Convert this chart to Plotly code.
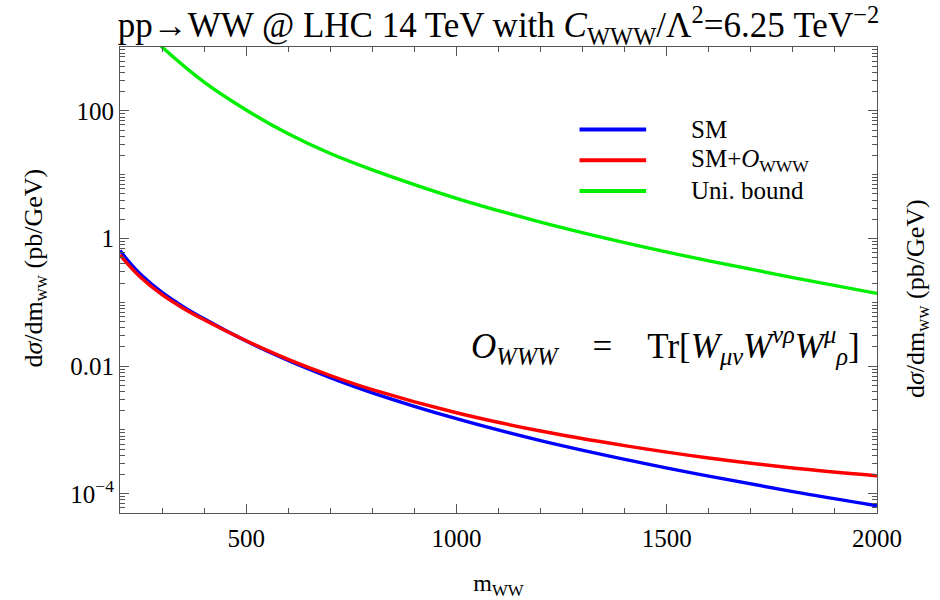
import plotly.graph_objects as go
import numpy as np

# ---- data ----
m_sm = [200, 225, 250, 300, 350, 400, 500, 600, 700, 800, 1000, 1200, 1400, 1600, 1800, 2000]
sm = [0.646, 0.403, 0.270, 0.1426, 0.0857, 0.0552, 0.0247, 0.01225, 6.61e-3, 3.82e-3,
      1.50e-3, 6.82e-4, 3.47e-4, 1.89e-4, 1.08e-4, 6.5e-5]
sm_www = [0.553, 0.355, 0.242, 0.1315, 0.0809, 0.0533, 0.0250, 0.01276, 7.13e-3, 4.29e-3,
          1.86e-3, 9.64e-4, 5.69e-4, 3.64e-4, 2.54e-4, 1.92e-4]

m_uni = [290, 300, 400, 500, 600, 700, 800, 1000, 1200, 1400, 1600, 1800, 2000]
uni = [1161, 1000, 281.8, 103.3, 43.65, 21.4, 11.89, 4.26, 1.81, 0.863, 0.446, 0.244, 0.138]

x_ticks = [500, 1000, 1500, 2000]
x_ticktext = ["500", "1000", "1500", "2000"]
y_ticks = [1e-4, 1e-2, 1, 100]
y_ticktext = ["10<sup>\u22124</sup>", "0.01", "1", "100"]

series_names = ["SM", "SM+<i>O</i><sub>WWW</sub>", "Uni. bound"]
series_colors = ["#0000ff", "#ff0000", "#00ee00"]

SERIF = "Liberation Serif"
FRAME = "#555555"

fig = go.Figure()
for xs, ys, nm, col in [(m_sm, sm, series_names[0], series_colors[0]),
                        (m_sm, sm_www, series_names[1], series_colors[1]),
                        (m_uni, uni, series_names[2], series_colors[2])]:
    fig.add_trace(go.Scatter(x=xs, y=ys, mode="lines",
                             line=dict(color=col, width=3.4, shape="spline", smoothing=1.0),
                             name=nm, showlegend=False))

minor_y = [k * 10.0 ** e for e in range(-5, 4) for k in range(1, 10)
           if 5e-5 <= k * 10.0 ** e <= 1000 and not (k == 1 and e % 2 == 0)]

fig.update_xaxes(
    range=[200, 2000], tickmode="array", tickvals=x_ticks, ticktext=x_ticktext,
    ticks="inside", ticklen=9, tickwidth=1, tickcolor=FRAME, ticklabelstandoff=3,
    minor=dict(tickmode="linear", tick0=0, dtick=100, ticks="inside", ticklen=5, tickcolor=FRAME),
    showline=True, linecolor=FRAME, linewidth=1.2, mirror="ticks",
    showgrid=False, zeroline=False, automargin=False,
    tickfont=dict(family=SERIF, size=25, color="black"),
    title=dict(text="m<sub>WW</sub>", font=dict(family=SERIF, size=24, color="black"), standoff=27),
)
fig.update_yaxes(
    type="log", range=[np.log10(5e-5), 3], tickmode="array", tickvals=y_ticks, ticktext=y_ticktext,
    ticks="inside", ticklen=9, tickwidth=1, tickcolor=FRAME,
    minor=dict(tickmode="array", tickvals=minor_y, ticks="inside", ticklen=5, tickcolor=FRAME),
    showline=True, linecolor=FRAME, linewidth=1.2, mirror="ticks",
    showgrid=False, zeroline=False, automargin=False,
    tickfont=dict(family=SERIF, size=25, color="black"),
)

annotations = []
ylab = "d<i>\u03c3</i>/dm<sub>ww</sub> (pb/GeV)"
annotations.append(dict(text=ylab, xref="paper", yref="paper", x=-0.112, y=0.525, textangle=-90,
                        showarrow=False, font=dict(family=SERIF, size=26, color="black"),
                        xanchor="center", yanchor="middle"))
annotations.append(dict(text=ylab, xref="paper", yref="paper", x=1.052, y=0.46, textangle=-90,
                        showarrow=False, font=dict(family=SERIF, size=26, color="black"),
                        xanchor="center", yanchor="middle"))
annotations.append(dict(
    text="<i>O</i><sub><i>WWW</i></sub>\u2003=\u2003Tr[<i>W</i><sub><i>\u03bc\u03bd</i></sub><i>W</i><sup><i>\u03bd\u03c1</i></sup><i>W</i><sup><i>\u03bc</i></sup><sub><i>\u03c1</i></sub>]",
    xref="paper", yref="paper", x=0.98, y=0.36, showarrow=False, xanchor="right", yanchor="middle",
    font=dict(family=SERIF, size=35, color="black")))

shapes = []
leg_y = [0.823, 0.757, 0.691]
for name, col, yy in zip(series_names, series_colors, leg_y):
    shapes.append(dict(type="line", xref="paper", yref="paper", x0=0.607, x1=0.695, y0=yy, y1=yy,
                       line=dict(color=col, width=4)))
    annotations.append(dict(text=name, xref="paper", yref="paper", x=0.752, y=yy, showarrow=False,
                            xanchor="left", yanchor="middle", font=dict(family=SERIF, size=25, color="black")))

fig.update_layout(
    width=940, height=600,
    margin=dict(l=120, r=63, t=47, b=87, autoexpand=False),
    plot_bgcolor="white", paper_bgcolor="white",
    title=dict(text="pp\u2192WW @ LHC 14 TeV with <i>C</i><sub>WWW</sub>/\u039b<sup>2</sup>=6.25 TeV<sup>\u22122</sup>",
               x=0.5, xref="paper", xanchor="center", y=0.958, yanchor="middle", yref="container",
               font=dict(family=SERIF, size=35, color="black")),
    annotations=annotations, shapes=shapes, showlegend=False,
)

fig.write_html("out.html")
